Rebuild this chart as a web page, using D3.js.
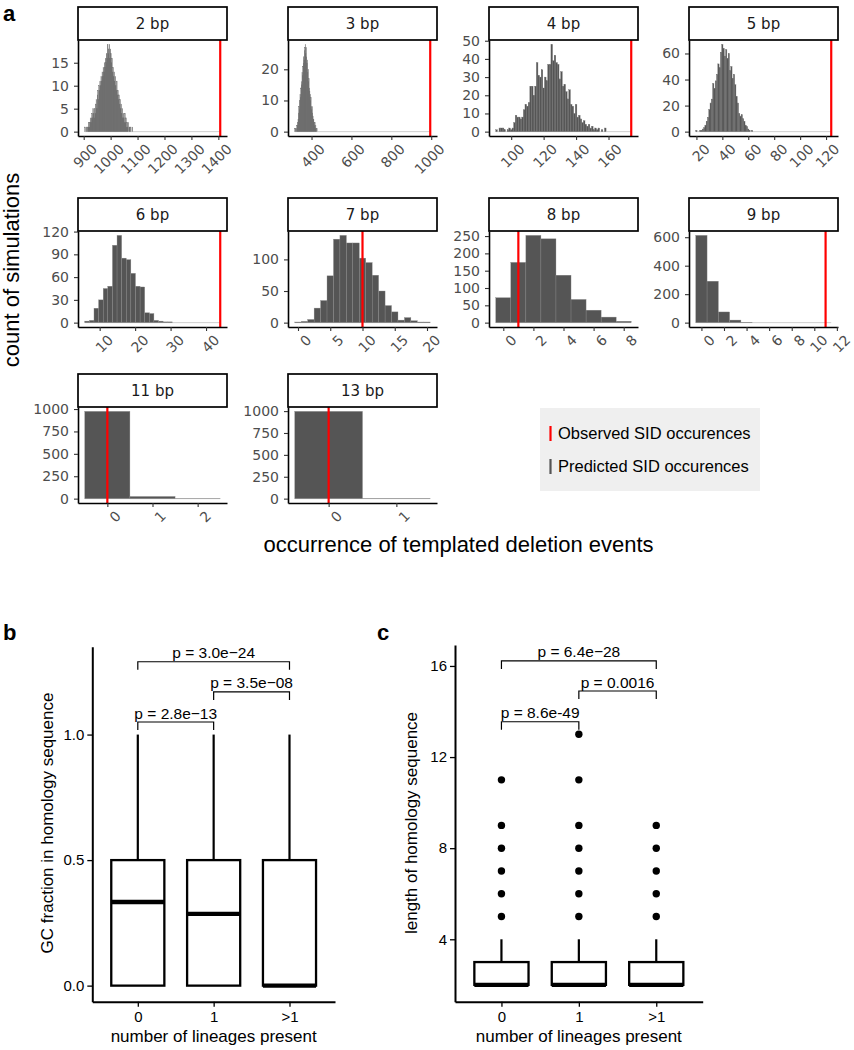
<!DOCTYPE html>
<html><head><meta charset="utf-8">
<script src="https://cdn.jsdelivr.net/npm/d3@7"></script>
<style>body{margin:0;background:#fff}svg{display:block}</style>
</head><body>
<script>
// ---------------- DATA ----------------
const facetLabels = ["2 bp","3 bp","4 bp","5 bp","6 bp","7 bp","8 bp","9 bp","11 bp","13 bp"];
// left edge of first bin and bin width for each facet
const binStarts = [904, 316, 90.5, 19.5, 5.8, -0.5, -0.5, -0.5, -0.5, -0.5];
const binWidths = [2, 2, 1, 1, 1.3, 1, 1, 1, 1, 1];
const counts2bp = [1,0,0,1,0,1,
  1,2,1,2,3,2,3,4,3,5,4,3,
  5,4,6,7,5,8,9,7,10,9,11,10,12,11,13,
  12,14,13,15,14,16,15,17,16,19,17,18,19,16,18,
  17,15,16,13,14,12,13,11,12,10,9,11,8,9,7,
  8,6,7,5,6,4,5,3,4,3,2,4,2,3,1,
  2,1,2,0,1,1,0,1,0,0,1,0];
const counts3bp = [1,0,1,0,1,2,2,3,4,6,8,7,10,12,11,14,16,15,19,18,21,22,24,23,26,27,28,25,27,24,22,23,19,20,16,17,14,13,12,10,11,8,7,8,6,5,4,4,3,2,3,1,2,1,0,1,0];
const counts4bp = [1,0,2,2,2,1,0,1,2,1,2,5,9,8,8,7,8,12,15,14,16,25,25,20,25,38,31,30,34,24,30,28,37,37,48,39,42,38,37,29,33,25,26,22,18,23,15,14,10,15,8,9,7,5,6,4,3,4,2,3,1,2,1,2,0,1,0,2];
const counts5bp = [1,0,0,1,1,2,3,5,8,11,17,22,25,37,33,39,44,52,49,61,67,64,58,63,56,60,47,50,41,44,36,27,22,14,12,13,10,8,5,4,2,1,0,1,0];
const counts6bp = [2,3,19,30,45,48,102,115,85,83,65,48,47,13,12,3,2,1,1];
const counts7bp = [1,2,5,23,35,74,132,138,126,126,102,95,75,50,27,17,4,8,3,1,1];
const counts8bp = [72,174,252,242,137,67,36,16,4];
const counts9bp = [613,291,75,18,3,0,0,0,0,0,0,0];
const counts11bp = [974,24,2];
const counts13bp = [997,3];
const countsA = [counts2bp,counts3bp,counts4bp,counts5bp,counts6bp,counts7bp,counts8bp,counts9bp,counts11bp,counts13bp];
const observed = [1407, 995, 174, 124, 44, 10, 1, 11, 0, 0];
const xTicksA = [[900,1000,1100,1200,1300,1400],[400,600,800,1000],[100,120,140,160],[20,40,60,80,100,120],[10,20,30,40],[0,5,10,15,20],[0,2,4,6,8],[0,2,4,6,8,10,12],[0,1,2],[0,1]];
const yTicksA = [[0,5,10,15],[0,10,20],[0,10,20,30,40,50],[0,20,40,60],[0,30,60,90,120],[0,50,100],[0,50,100,150,200,250],[0,200,400,600],[0,250,500,750,1000],[0,250,500,750,1000]];
const legendLabels = ["Observed SID occurences","Predicted SID occurences"];

const groups = ["0","1",">1"];
const gcQ1 = [0,0,0], gcMedian = [0.333,0.286,0], gcQ3 = [0.5,0.5,0.5], gcWhiskerHi = [1,1,1], gcWhiskerLo = [0,0,0];
const gcYLim = [-0.064, 1.35];
const gcTicks = [0, 0.5, 1.0];
const gcBrackets = [[0,1,1.05,"p = 2.8e\u221213"],[1,2,1.17,"p = 3.5e\u221208"],[0,2,1.29,"p = 3.0e\u221224"]];
const lenQ1 = [2,2,2], lenMedian = [2,2,2], lenQ3 = [3,3,3], lenWhiskerHi = [4,4,4], lenWhiskerLo = [2,2,2];
const lenOutliers = [[5,6,7,8,9,11],[5,6,7,8,9,11,13],[5,6,7,8,9]];
const lenYLim = [1.26, 16.92];
const lenTicks = [4, 8, 12, 16];
const lenBrackets = [[0,1,13.55,"p = 8.6e-49"],[1,2,14.9,"p = 0.0016"],[0,2,16.22,"p = 6.4e\u221228"]];

// ---------------- DRAW ----------------
const FA = "'Liberation Sans', Arial, Helvetica, sans-serif";
const FD = "'DejaVu Sans', 'Liberation Sans', sans-serif";
const svg = d3.select("body").append("svg").attr("width",854).attr("height",1050);

// panel letters
[["a",3,21],["b",3,640],["c",377,640]].forEach(([t,x,y]) =>
  svg.append("text").text(t).attr("x",x).attr("y",y).attr("font-family",FA)
     .attr("font-weight","bold").attr("font-size",22).attr("fill","#000"));

// ---- panel a facets ----
const colX = [78, 288, 489, 689], rowY = [7, 198, 374];
const stripH = 33, panelH = 96, panelW = 149;

facetLabels.forEach((lab, i) => {
  const col = i % 4, row = Math.floor(i / 4);
  const x0 = colX[col], sy = rowY[row], py = sy + stripH;
  const cnt = countsA[i], st = binStarts[i], bw = binWidths[i];
  const lo = Math.min(st, observed[i]), hi = Math.max(st + cnt.length * bw, observed[i]);
  const pad = (hi - lo) * 0.05;
  const xs = d3.scaleLinear().domain([lo - pad, hi + pad]).range([x0, x0 + panelW]);
  const M = d3.max(cnt);
  const ys = d3.scaleLinear().domain([-0.05 * M, 1.05 * M]).range([py + panelH, py]);
  const g = svg.append("g");
  const pxW = xs(st + bw) - xs(st);

  // baseline of empty bins
  g.append("line").attr("x1", xs(lo)).attr("x2", xs(hi)).attr("y1", ys(0)).attr("y2", ys(0))
    .attr("stroke", "#cfcfcf").attr("stroke-width", 1);
  // bars
  g.selectAll("rect.bar").data(cnt.map((c, k) => ({c, k})).filter(d => d.c > 0)).join("rect")
    .attr("x", d => xs(st + d.k * bw))
    .attr("width", d => xs(st + (d.k + 1) * bw) - xs(st + d.k * bw))
    .attr("y", d => ys(d.c)).attr("height", d => ys(0) - ys(d.c))
    .attr("fill", "#555555").attr("stroke", pxW < 2 ? "#707070" : "#8a8a8a").attr("stroke-width", 0.35);
  // observed line
  g.append("line").attr("x1", xs(observed[i])).attr("x2", xs(observed[i]))
    .attr("y1", py).attr("y2", py + panelH).attr("stroke", "#ff0000").attr("stroke-width", 2.2);

  // axes
  const ay = g.append("g").attr("transform", `translate(${x0},0)`)
    .call(d3.axisLeft(ys).tickValues(yTicksA[i]).tickSize(4).tickSizeOuter(0).tickPadding(5).tickFormat(d3.format("d")));
  const ax = g.append("g").attr("transform", `translate(0,${py + panelH})`)
    .call(d3.axisBottom(xs).tickValues(xTicksA[i]).tickSize(4).tickSizeOuter(0).tickFormat(d3.format("d")));
  [ay, ax].forEach(a => {
    a.select(".domain").attr("stroke", "#000").attr("stroke-width", 1.6);
    a.selectAll(".tick line").attr("stroke", "#333").attr("stroke-width", 1.1);
    a.selectAll("text").attr("font-family", FD).attr("font-size", 14).attr("fill", "#4d4d4d");
  });
  ax.selectAll("text").attr("text-anchor", "end").attr("x", 0).attr("y", 0).attr("dy", "1.2em")
    .attr("transform", "translate(2,2) rotate(-45)");

  // strip
  g.append("rect").attr("x", x0).attr("y", sy).attr("width", panelW).attr("height", stripH)
    .attr("fill", "#fff").attr("stroke", "#000").attr("stroke-width", 1.7);
  g.append("text").text(lab).attr("x", x0 + panelW / 2).attr("y", sy + stripH / 2 + 5.5)
    .attr("text-anchor", "middle").attr("font-family", FD).attr("font-size", 15).attr("fill", "#1a1a1a");
});

svg.append("text").text("count of simulations").attr("transform", "translate(18.5,270) rotate(-90)")
  .attr("text-anchor", "middle").attr("font-family", FA).attr("font-size", 22).attr("fill", "#000");
svg.append("text").text("occurrence of templated deletion events").attr("x", 458.5).attr("y", 552)
  .attr("text-anchor", "middle").attr("font-family", FA).attr("font-size", 22).attr("fill", "#000");

// legend
const lg = svg.append("g");
lg.append("rect").attr("x", 540).attr("y", 408).attr("width", 220).attr("height", 83).attr("fill", "#efefef");
[["#ff0000", 426], ["#555555", 459]].forEach(([col, y], j) => {
  lg.append("line").attr("x1", 550.5).attr("x2", 550.5).attr("y1", y).attr("y2", y + 15)
    .attr("stroke", col).attr("stroke-width", 2.2);
  lg.append("text").text(legendLabels[j]).attr("x", 558).attr("y", y + 12.5)
    .attr("font-family", FA).attr("font-size", 16.5).attr("fill", "#000");
});

// ---- panels b and c ----
function boxPanel(o) {
  const xs = d3.scalePoint().domain(groups).range([o.x0, o.x1]).padding(0.6);
  const ys = d3.scaleLinear().domain(o.yLim).range([o.yB, o.yT]);
  const g = svg.append("g");
  const bw = xs.step() * 0.7;
  groups.forEach((k, j) => {
    const cx = xs(k);
    g.append("line").attr("x1", cx).attr("x2", cx).attr("y1", ys(o.q3[j])).attr("y2", ys(o.hi[j]))
      .attr("stroke", "#000").attr("stroke-width", 2.2);
    if (o.lo[j] < o.q1[j]) g.append("line").attr("x1", cx).attr("x2", cx).attr("y1", ys(o.q1[j])).attr("y2", ys(o.lo[j]))
      .attr("stroke", "#000").attr("stroke-width", 2.2);
    g.append("rect").attr("x", cx - bw / 2).attr("width", bw).attr("y", ys(o.q3[j]))
      .attr("height", ys(o.q1[j]) - ys(o.q3[j])).attr("fill", "#fff").attr("stroke", "#000").attr("stroke-width", 2.3);
    g.append("line").attr("x1", cx - bw / 2).attr("x2", cx + bw / 2).attr("y1", ys(o.med[j])).attr("y2", ys(o.med[j]))
      .attr("stroke", "#000").attr("stroke-width", 4.4);
    if (o.out) g.selectAll(null).data(o.out[j]).join("circle").attr("cx", cx).attr("cy", d => ys(d)).attr("r", 3.7).attr("fill", "#000");
  });
  o.br.forEach(([a, b, v, t]) => {
    const xa = xs(groups[a]), xb = xs(groups[b]), yv = ys(v);
    g.append("path").attr("d", `M${xa},${yv + 8}V${yv}H${xb}V${yv + 8}`).attr("fill", "none")
      .attr("stroke", "#000").attr("stroke-width", 1.2);
    g.append("text").text(t).attr("x", (xa + xb) / 2).attr("y", yv - 3.5).attr("text-anchor", "middle")
      .attr("font-family", FA).attr("font-size", 15.5).attr("fill", "#000");
  });
  const ay = g.append("g").attr("transform", `translate(${o.x0},0)`)
    .call(d3.axisLeft(ys).tickValues(o.ticks).tickSize(5).tickSizeOuter(0).tickPadding(3).tickFormat(o.fmt));
  const ax = g.append("g").attr("transform", `translate(0,${o.yB})`)
    .call(d3.axisBottom(xs).tickSize(5).tickSizeOuter(0).tickPadding(5));
  [ay, ax].forEach(a => {
    a.select(".domain").attr("stroke", "#000").attr("stroke-width", 2);
    a.selectAll(".tick line").attr("stroke", "#000").attr("stroke-width", 1.3);
    a.selectAll("text").attr("font-family", FA).attr("font-size", 15).attr("fill", "#000");
  });
  svg.append("text").text("number of lineages present").attr("x", (o.x0 + o.x1) / 2).attr("y", 1041.5)
    .attr("text-anchor", "middle").attr("font-family", FA).attr("font-size", 17).attr("fill", "#000");
  svg.append("text").text(o.title).attr("transform", `translate(${o.tx},823) rotate(-90)`)
    .attr("text-anchor", "middle").attr("font-family", FA).attr("font-size", 17).attr("fill", "#000");
}

boxPanel({x0: 92.3, x1: 335, yT: 646.7, yB: 1001.7, yLim: gcYLim, ticks: gcTicks, fmt: d3.format(".1f"),
  q1: gcQ1, med: gcMedian, q3: gcQ3, hi: gcWhiskerHi, lo: gcWhiskerLo, br: gcBrackets,
  title: "GC fraction in homology sequence", tx: 53});
boxPanel({x0: 455, x1: 702.7, yT: 645, yB: 1001.7, yLim: lenYLim, ticks: lenTicks, fmt: d3.format("d"),
  q1: lenQ1, med: lenMedian, q3: lenQ3, hi: lenWhiskerHi, lo: lenWhiskerLo, out: lenOutliers, br: lenBrackets,
  title: "length of homology sequence", tx: 417});
</script>
</body></html>
